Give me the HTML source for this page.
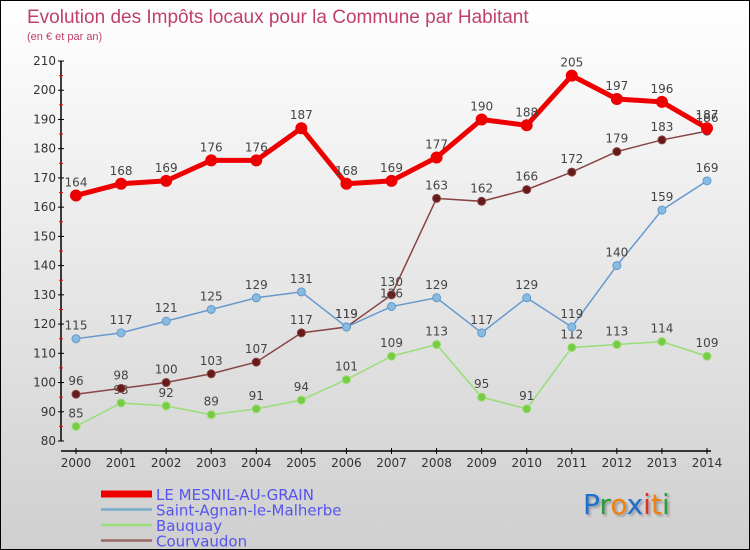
<!DOCTYPE html>
<html><head><meta charset="utf-8"><style>
body{margin:0}
#c{width:750px;height:550px;position:relative;overflow:hidden;box-sizing:border-box;border:1px solid #000;background:linear-gradient(#ffffff,#cfcfcf);font-family:"DejaVu Sans","Liberation Sans",sans-serif}
</style></head><body>
<div id="c">
<svg id="s" width="750" height="550" style="position:absolute;left:0;top:0">
<text x="26" y="22" font-size="19" fill="#c0406a" font-family="Liberation Sans, sans-serif">Evolution des Impôts locaux pour la Commune par Habitant</text>
<text x="26" y="39" font-size="11" fill="#c0406a" font-family="Liberation Sans, sans-serif">(en € et par an)</text>
</svg>
<div style="position:absolute;left:582px;top:487px;font-size:28px;font-family:'DejaVu Sans',sans-serif;text-shadow:2px 2px 2px #999"><span style="color:#1a6fd0">P</span><span style="color:#2a9a3a">r</span><span style="color:#f08010">o</span><span style="color:#1a6fd0">x</span><span style="color:#e03020">i</span><span style="color:#f08010">t</span><span style="color:#2a9a3a">i</span></div>
</div>
<script>
const years=[2000,2001,2002,2003,2004,2005,2006,2007,2008,2009,2010,2011,2012,2013,2014];
const mesnil=[164,168,169,176,176,187,168,169,177,190,188,205,197,196,187];
const agnan=[115,117,121,125,129,131,119,126,129,117,129,119,140,159,169];
const bauquay=[85,93,92,89,91,94,101,109,113,95,91,112,113,114,109];
const courvaudon=[96,98,100,103,107,117,119,130,163,162,166,172,179,183,186];
const yTicks=[80,90,100,110,120,130,140,150,160,170,180,190,200,210];
const seriesNames=["LE MESNIL-AU-GRAIN","Saint-Agnan-le-Malherbe","Bauquay","Courvaudon"];
const s=document.getElementById('s');const NS='http://www.w3.org/2000/svg';
function X(i){return 75+i*(706-75)/(years.length-1);}
function Y(v){return 440-(v-80)*(380/130);}
function el(t,a,p){const e=document.createElementNS(NS,t);for(const k in a)e.setAttribute(k,a[k]);(p||s).appendChild(e);return e;}
let e=el('line',{x1:60,y1:60,x2:60,y2:440,stroke:'#000','stroke-width':1.5});

e=el('line',{x1:60,y1:450,x2:710,y2:450,stroke:'#000','stroke-width':1.5});

yTicks.forEach(v=>{el('line',{x1:57,y1:Y(v),x2:63,y2:Y(v),stroke:'#000'});
if(v<210)el('line',{x1:58,y1:Y(v+5),x2:62,y2:Y(v+5),stroke:'#f00'});
const t=el('text',{x:55,y:Y(v)+4,'text-anchor':'end','font-size':12,fill:'#333'});t.textContent=v;
});
years.forEach((y,i)=>{el('line',{x1:X(i),y1:447,x2:X(i),y2:453,stroke:'#000'});
const t=el('text',{x:X(i),y:466,'text-anchor':'middle','font-size':12,fill:'#333'});t.textContent=y;
});
function series(d,col,dot,w,r,name){const g=el('g',{});

el('polyline',{points:d.map((v,i)=>X(i)+','+Y(v)).join(' '),fill:'none',stroke:col,'stroke-width':w},g);
d.forEach((v,i)=>{const c=el('circle',{cx:X(i),cy:Y(v),r:r,fill:dot,stroke:col,'stroke-width':1},g);

const t=el('text',{x:X(i),y:Y(v)-9,'text-anchor':'middle','font-size':12,fill:'#444'},g);t.textContent=v;
});}
series(bauquay,'#99dd77','#77cc44',1.5,4,'series-bauquay');
series(courvaudon,'#884444','#661a1a',1.5,4,'series-courvaudon');
series(agnan,'#6699cc','#88bbe0',1.5,4,'series-saint-agnan');
series(mesnil,'#ee0000','#ee0000',5,5.5,'series-le-mesnil');
const lc=[['#ee0000',7],['#77aacc',2.5],['#99dd77',2.5],['#996666',2.5]];
seriesNames.forEach((n,i)=>{const y=493+i*15.5;
const l=el('line',{x1:100,y1:y,x2:151,y2:y,stroke:lc[i][0],'stroke-width':lc[i][1]});

const t=el('text',{x:155,y:y+6,'font-size':15,fill:'#5555ee'});t.textContent=n;
});
</script>
</body></html>
